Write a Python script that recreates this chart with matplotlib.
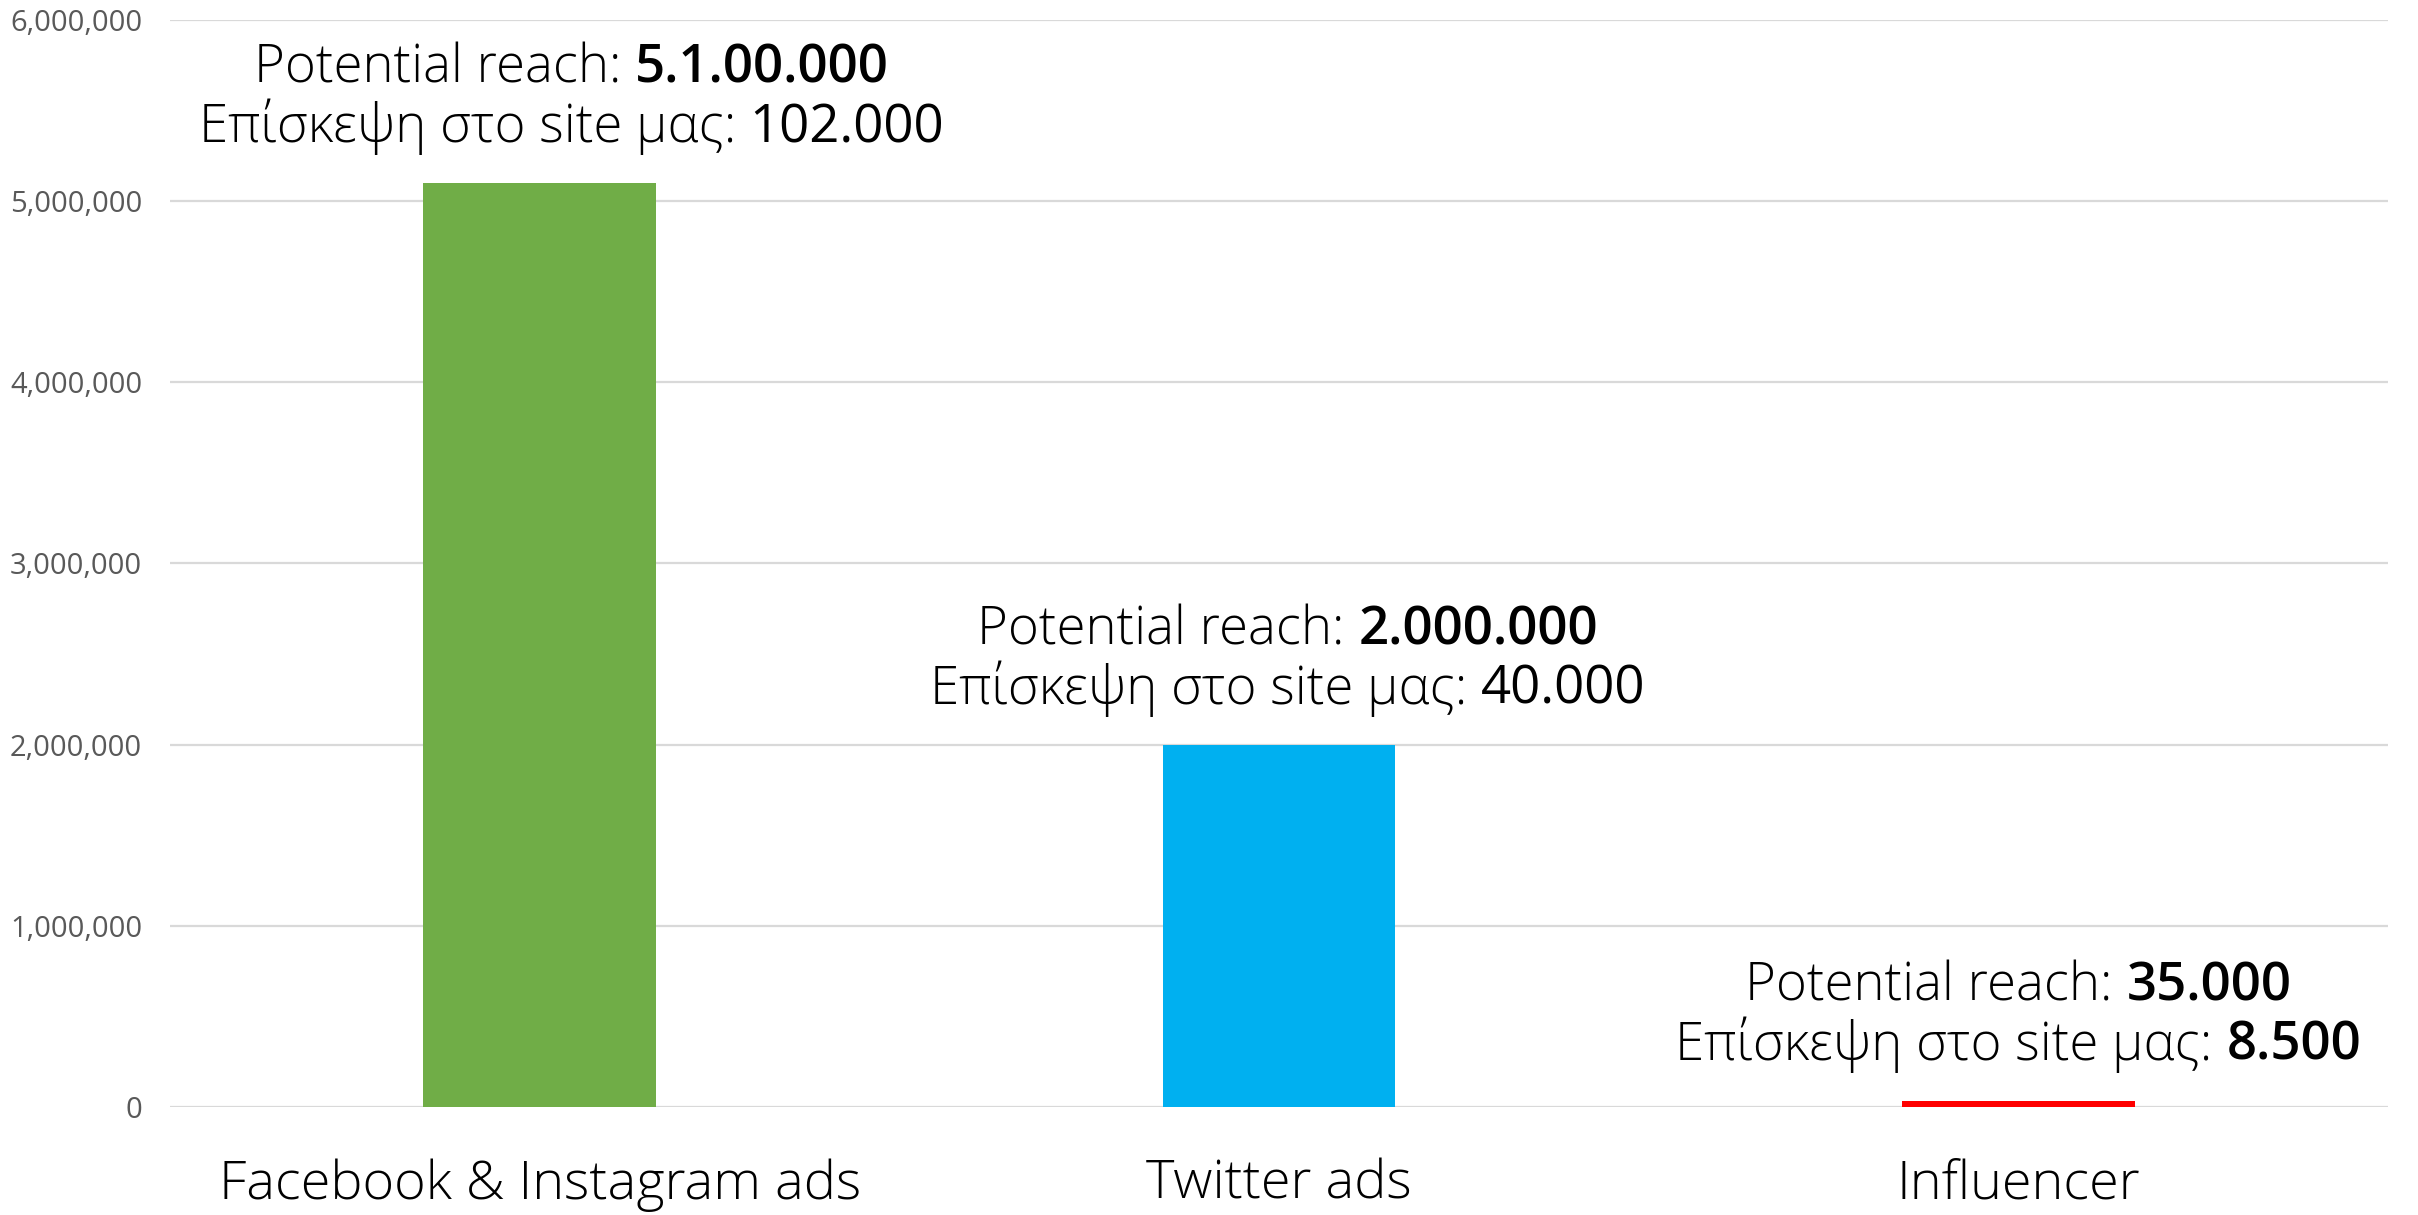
import matplotlib
matplotlib.use("Agg")
import matplotlib.pyplot as plt
from matplotlib.offsetbox import TextArea, HPacker, VPacker, AnnotationBbox
from matplotlib.ticker import FuncFormatter

categories = ["Facebook & Instagram ads", "Twitter ads", "Influencer"]
reach = [5100000, 2000000, 35000]
reach_labels = ["5.1.00.000", "2.000.000", "35.000"]
visit_labels = ["102.000", "40.000", "8.500"]
colors = ["#70AD47", "#00B0F0", "#FF0000"]
yticks = [0, 1000000, 2000000, 3000000, 4000000, 5000000, 6000000]

FONT = ["Open Sans", "DejaVu Sans"]

fig = plt.figure(figsize=(24.18, 12.15), dpi=100)
ax = fig.add_axes([170/2418, 108/1215, 2218/2418, 1087/1215])

x = list(range(len(categories)))
ax.bar(x, reach, width=0.315, color=colors, zorder=3)
ax.set_xlim(-0.5, 2.5)
ax.set_ylim(0, 6000000)
ax.set_yticks(yticks)
ax.grid(axis="y", color="#D9D9D9", linewidth=1.6, zorder=0)
ax.set_axisbelow(True)
for s in ax.spines.values():
    s.set_visible(False)
ax.tick_params(axis="both", length=0)
ax.tick_params(axis="y", pad=20)
ax.set_yticklabels([f"{v:,}" for v in yticks], family=FONT, fontsize=21, color="#595959")
ax.set_xticks(x)
ax.set_xticklabels(categories, family=FONT, fontsize=39, fontweight="light", color="black")
ax.tick_params(axis="x", pad=37)

x_offsets = [0.043, 0.012, 0.0]
visit_weights = ["normal", "normal", "semibold"]
for i in range(len(categories)):
    l1 = HPacker(children=[
        TextArea("Potential reach: ", textprops=dict(family=FONT, fontsize=38, fontweight="light")),
        TextArea(reach_labels[i], textprops=dict(family=FONT, fontsize=38, fontweight="semibold")),
    ], sep=0, pad=0, align="baseline")
    l2 = HPacker(children=[
        TextArea("Επίσκεψη στο site μας: ", textprops=dict(family=FONT, fontsize=38, fontweight="light")),
        TextArea(visit_labels[i], textprops=dict(family=FONT, fontsize=38, fontweight=visit_weights[i])),
    ], sep=0, pad=0, align="baseline")
    box = VPacker(children=[l1, l2], sep=2, pad=0, align="center")
    ab = AnnotationBbox(box, (x[i] + x_offsets[i], reach[i]), xybox=(0, 20),
                        xycoords="data", boxcoords="offset points",
                        box_alignment=(0.5, 0), frameon=False)
    ax.add_artist(ab)

fig.savefig("out.png", dpi=100, facecolor="white")
